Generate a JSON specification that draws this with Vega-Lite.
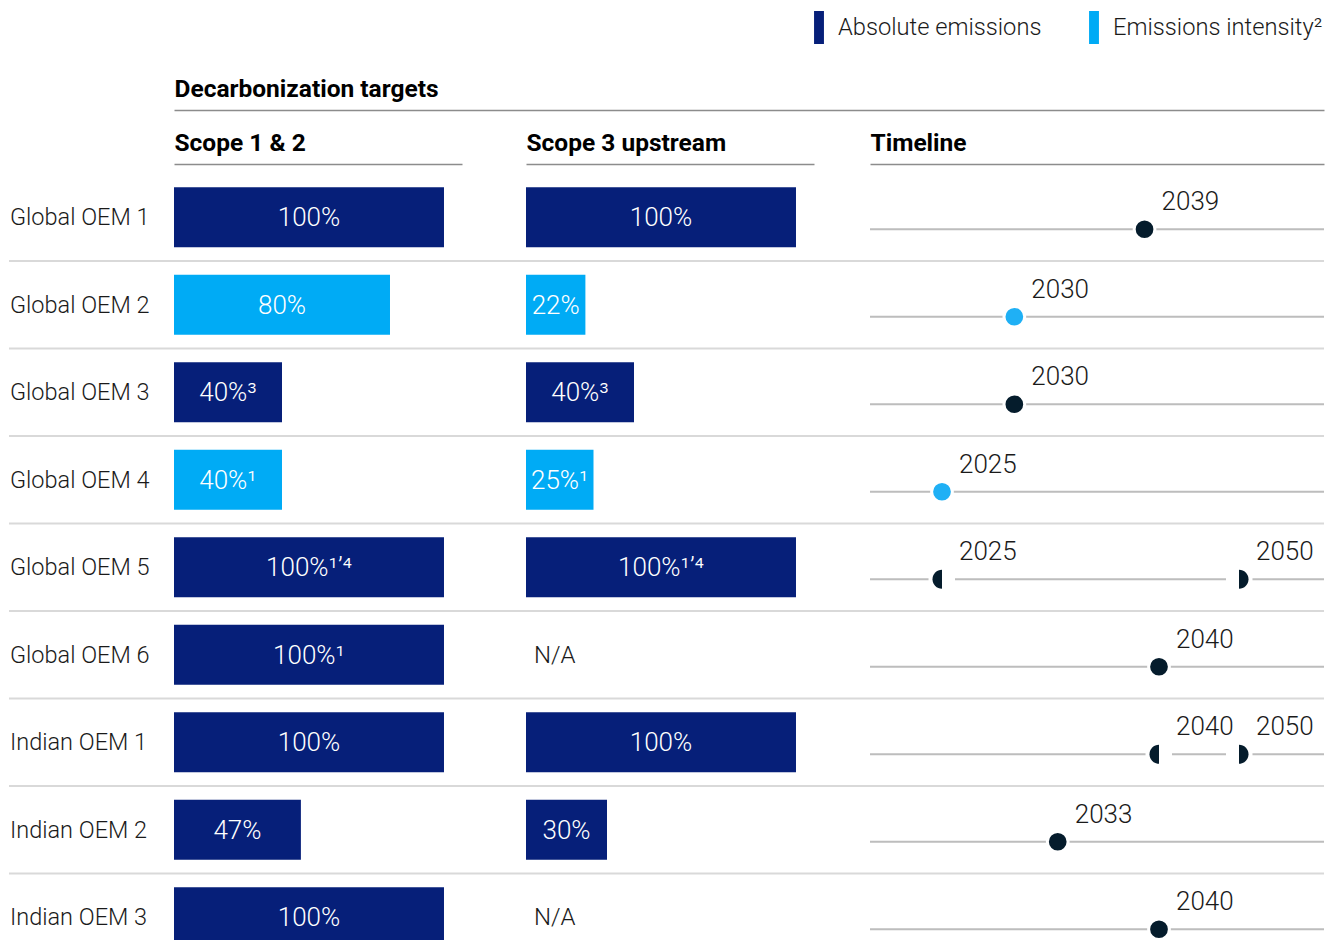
{
  "$schema": "https://vega.github.io/schema/vega-lite/v6.json",
  "padding": {"left": 8, "top": 11, "right": 10, "bottom": 0},
  "background": "white",
  "bounds": "flush",
  "spacing": 54,
  "datasets": {
    "rows": [
      {"company": "Global OEM 1", "s12": 100, "s12Type": "Absolute emissions", "s12Label": "100%", "s3": 100, "s3Type": "Absolute emissions", "s3Label": "100%"},
      {"company": "Global OEM 2", "s12": 80, "s12Type": "Emissions intensity²", "s12Label": "80%", "s3": 22, "s3Type": "Emissions intensity²", "s3Label": "22%"},
      {"company": "Global OEM 3", "s12": 40, "s12Type": "Absolute emissions", "s12Label": "40%³", "s3": 40, "s3Type": "Absolute emissions", "s3Label": "40%³"},
      {"company": "Global OEM 4", "s12": 40, "s12Type": "Emissions intensity²", "s12Label": "40%¹", "s3": 25, "s3Type": "Emissions intensity²", "s3Label": "25%¹"},
      {"company": "Global OEM 5", "s12": 100, "s12Type": "Absolute emissions", "s12Label": "100%¹ʼ⁴", "s3": 100, "s3Type": "Absolute emissions", "s3Label": "100%¹ʼ⁴"},
      {"company": "Global OEM 6", "s12": 100, "s12Type": "Absolute emissions", "s12Label": "100%¹", "s3": null, "s3Type": null, "s3Label": "N/A"},
      {"company": "Indian OEM 1", "s12": 100, "s12Type": "Absolute emissions", "s12Label": "100%", "s3": 100, "s3Type": "Absolute emissions", "s3Label": "100%"},
      {"company": "Indian OEM 2", "s12": 47, "s12Type": "Absolute emissions", "s12Label": "47%", "s3": 30, "s3Type": "Absolute emissions", "s3Label": "30%"},
      {"company": "Indian OEM 3", "s12": 100, "s12Type": "Absolute emissions", "s12Label": "100%", "s3": null, "s3Type": null, "s3Label": "N/A"}
    ],
    "timeline": [
      {"company": "Global OEM 1", "year": 2039, "kind": "target", "type": "Absolute emissions"},
      {"company": "Global OEM 2", "year": 2030, "kind": "target", "type": "Emissions intensity²"},
      {"company": "Global OEM 3", "year": 2030, "kind": "target", "type": "Absolute emissions"},
      {"company": "Global OEM 4", "year": 2025, "kind": "target", "type": "Emissions intensity²"},
      {"company": "Global OEM 5", "year": 2025, "kind": "start", "type": "Absolute emissions"},
      {"company": "Global OEM 5", "year": 2050, "kind": "end", "type": "Absolute emissions"},
      {"company": "Global OEM 6", "year": 2040, "kind": "target", "type": "Absolute emissions"},
      {"company": "Indian OEM 1", "year": 2040, "kind": "start", "type": "Absolute emissions"},
      {"company": "Indian OEM 1", "year": 2050, "kind": "end", "type": "Absolute emissions"},
      {"company": "Indian OEM 2", "year": 2033, "kind": "target", "type": "Absolute emissions"},
      {"company": "Indian OEM 3", "year": 2040, "kind": "target", "type": "Absolute emissions"}
    ]
  },
  "vconcat": [
    {
      "spacing": 0,
      "bounds": "flush",
      "hconcat": [
        {"width": 165, "height": 1, "data": {"values": []}, "mark": "point", "encoding": {}},
        {
          "width": 1150, "height": 1,
          "data": {"values": []},
          "mark": {"type": "rule"},
          "encoding": {
            "x": {"field": "v", "type": "quantitative", "scale": {"domain": [0, 1]},
              "axis": {"orient": "top", "title": "Decarbonization targets", "titleAnchor": "start", "titleAlign": "left", "titleBaseline": "alphabetic", "titlePadding": 14, "titleFontSize": 24.5, "titleFontWeight": "bold", "titleColor": "#000000", "domain": true, "domainColor": "#8c8c8c", "domainWidth": 1.5, "ticks": false, "tickSize": 0, "labels": false, "grid": false}}
          }
        }
      ]
    },
    {
      "spacing": 0,
      "bounds": "flush",
      "hconcat": [
        {
          "width": 165, "height": 776,
          "layer": [
            {
              "data": {"name": "rows"},
              "transform": [{"filter": "datum.company != 'Global OEM 1'"}],
              "mark": {"type": "rule", "color": "#d9d9d9", "strokeWidth": 2},
              "encoding": {"y": {"field": "company", "type": "nominal", "bandPosition": 0, "scale": {"domain": ["Global OEM 1","Global OEM 2","Global OEM 3","Global OEM 4","Global OEM 5","Global OEM 6","Indian OEM 1","Indian OEM 2","Indian OEM 3"], "range": [9.5, 797], "paddingInner": 0, "paddingOuter": 0}, "axis": null}}
            },
            {
              "data": {"name": "rows"},
              "mark": {"type": "text", "align": "left", "baseline": "middle", "dx": 1, "yOffset": 1, "fontSize": 23.5, "fontWeight": 300, "color": "#1a1a1a"},
              "encoding": {
                "y": {"field": "company", "type": "nominal", "scale": {"domain": ["Global OEM 1","Global OEM 2","Global OEM 3","Global OEM 4","Global OEM 5","Global OEM 6","Indian OEM 1","Indian OEM 2","Indian OEM 3"], "range": [9.5, 797], "paddingInner": 0, "paddingOuter": 0}, "axis": null},
                "x": {"datum": 0, "type": "quantitative", "scale": {"domain": [0, 1], "nice": false}, "axis": null},
                "text": {"field": "company"}
              }
            }
          ]
        },
        {
          "width": 288, "height": 776,
          "layer": [
            {
              "data": {"name": "rows"},
              "transform": [{"filter": "datum.company != 'Global OEM 1'"}],
              "mark": {"type": "rule", "color": "#d9d9d9", "strokeWidth": 2},
              "encoding": {"y": {"field": "company", "type": "nominal", "bandPosition": 0, "scale": {"domain": ["Global OEM 1","Global OEM 2","Global OEM 3","Global OEM 4","Global OEM 5","Global OEM 6","Indian OEM 1","Indian OEM 2","Indian OEM 3"], "range": [9.5, 797], "paddingInner": 0, "paddingOuter": 0}, "axis": null}}
            },
            {
              "data": {"name": "rows"},
              "mark": {"type": "bar", "orient": "horizontal", "height": {"band": 0.6857}, "clip": true},
              "encoding": {
                "y": {"field": "company", "type": "nominal", "scale": {"domain": ["Global OEM 1","Global OEM 2","Global OEM 3","Global OEM 4","Global OEM 5","Global OEM 6","Indian OEM 1","Indian OEM 2","Indian OEM 3"], "range": [9.5, 797], "paddingInner": 0, "paddingOuter": 0}, "axis": null},
                "x": {"field": "s12", "type": "quantitative", "scale": {"domain": [0, 106.67], "nice": false, "zero": true},
                  "axis": {"orient": "top", "title": "Scope 1 & 2", "titleAnchor": "start", "titleAlign": "left", "titleBaseline": "alphabetic", "titlePadding": 14, "titleFontSize": 24.5, "titleFontWeight": "bold", "titleColor": "#000000", "domain": true, "domainColor": "#8c8c8c", "domainWidth": 1.5, "ticks": false, "tickSize": 0, "labels": false, "grid": false}},
                "color": {"field": "s12Type", "type": "nominal", "scale": {"domain": ["Absolute emissions", "Emissions intensity²"], "range": ["#061f79", "#00abf5"]},
                  "legend": {"orient": "none", "legendX": 793.5, "legendY": -99, "direction": "horizontal", "title": null, "symbolType": "M-0.3,-1H0.3V1H-0.3Z", "symbolSize": 1089, "symbolStrokeWidth": 0, "symbolOpacity": 1, "labelFontSize": 23.7, "labelFontWeight": 300, "labelColor": "#1a1a1a", "labelOffset": 2.5, "columnPadding": 36, "padding": 0, "labelLimit": 400}}
              }
            },
            {
              "data": {"name": "rows"},
              "mark": {"type": "text", "color": "#ffffff", "fontSize": 26, "fontWeight": 300, "align": "center", "baseline": "middle", "yOffset": 1},
              "encoding": {
                "y": {"field": "company", "type": "nominal", "scale": {"domain": ["Global OEM 1","Global OEM 2","Global OEM 3","Global OEM 4","Global OEM 5","Global OEM 6","Indian OEM 1","Indian OEM 2","Indian OEM 3"], "range": [9.5, 797], "paddingInner": 0, "paddingOuter": 0}, "axis": null},
                "x": {"field": "s12", "type": "quantitative", "scale": {"domain": [0, 213.33], "nice": false, "zero": true}, "axis": null},
                "text": {"field": "s12Label"}
              }
            }
          ],
          "resolve": {"scale": {"x": "independent"}}
        },
        {
          "width": 64, "height": 776,
          "data": {"name": "rows"},
          "transform": [{"filter": "datum.company != 'Global OEM 1'"}],
          "mark": {"type": "rule", "color": "#d9d9d9", "strokeWidth": 2},
          "encoding": {"y": {"field": "company", "type": "nominal", "bandPosition": 0, "scale": {"domain": ["Global OEM 1","Global OEM 2","Global OEM 3","Global OEM 4","Global OEM 5","Global OEM 6","Indian OEM 1","Indian OEM 2","Indian OEM 3"], "range": [9.5, 797], "paddingInner": 0, "paddingOuter": 0}, "axis": null}}
        },
        {
          "width": 288, "height": 776,
          "layer": [
            {
              "data": {"name": "rows"},
              "transform": [{"filter": "datum.company != 'Global OEM 1'"}],
              "mark": {"type": "rule", "color": "#d9d9d9", "strokeWidth": 2},
              "encoding": {"y": {"field": "company", "type": "nominal", "bandPosition": 0, "scale": {"domain": ["Global OEM 1","Global OEM 2","Global OEM 3","Global OEM 4","Global OEM 5","Global OEM 6","Indian OEM 1","Indian OEM 2","Indian OEM 3"], "range": [9.5, 797], "paddingInner": 0, "paddingOuter": 0}, "axis": null}}
            },
            {
              "data": {"name": "rows"},
              "transform": [{"filter": "isValid(datum.s3)"}],
              "mark": {"type": "bar", "orient": "horizontal", "height": {"band": 0.6857}, "clip": true},
              "encoding": {
                "y": {"field": "company", "type": "nominal", "scale": {"domain": ["Global OEM 1","Global OEM 2","Global OEM 3","Global OEM 4","Global OEM 5","Global OEM 6","Indian OEM 1","Indian OEM 2","Indian OEM 3"], "range": [9.5, 797], "paddingInner": 0, "paddingOuter": 0}, "axis": null},
                "x": {"field": "s3", "type": "quantitative", "scale": {"domain": [0, 106.67], "nice": false, "zero": true},
                  "axis": {"orient": "top", "title": "Scope 3 upstream", "titleAnchor": "start", "titleAlign": "left", "titleBaseline": "alphabetic", "titlePadding": 14, "titleFontSize": 24.5, "titleFontWeight": "bold", "titleColor": "#000000", "domain": true, "domainColor": "#8c8c8c", "domainWidth": 1.5, "ticks": false, "tickSize": 0, "labels": false, "grid": false}},
                "color": {"field": "s3Type", "type": "nominal", "scale": {"domain": ["Absolute emissions", "Emissions intensity²"], "range": ["#061f79", "#00abf5"]},
                  "legend": {"orient": "none", "legendX": 793.5, "legendY": -99, "direction": "horizontal", "title": null, "symbolType": "M-0.3,-1H0.3V1H-0.3Z", "symbolSize": 1089, "symbolStrokeWidth": 0, "symbolOpacity": 1, "labelFontSize": 23.7, "labelFontWeight": 300, "labelColor": "#1a1a1a", "labelOffset": 2.5, "columnPadding": 36, "padding": 0, "labelLimit": 400}}
              }
            },
            {
              "data": {"name": "rows"},
              "transform": [{"filter": "isValid(datum.s3)"}],
              "mark": {"type": "text", "color": "#ffffff", "fontSize": 26, "fontWeight": 300, "align": "center", "baseline": "middle", "yOffset": 1},
              "encoding": {
                "y": {"field": "company", "type": "nominal", "scale": {"domain": ["Global OEM 1","Global OEM 2","Global OEM 3","Global OEM 4","Global OEM 5","Global OEM 6","Indian OEM 1","Indian OEM 2","Indian OEM 3"], "range": [9.5, 797], "paddingInner": 0, "paddingOuter": 0}, "axis": null},
                "x": {"field": "s3", "type": "quantitative", "scale": {"domain": [0, 213.33], "nice": false, "zero": true}, "axis": null},
                "text": {"field": "s3Label"}
              }
            },
            {
              "data": {"name": "rows"},
              "transform": [{"filter": "!isValid(datum.s3)"}],
              "mark": {"type": "text", "color": "#1a1a1a", "fontSize": 24, "fontWeight": 300, "align": "left", "baseline": "middle", "dx": 8, "yOffset": 1},
              "encoding": {
                "y": {"field": "company", "type": "nominal", "scale": {"domain": ["Global OEM 1","Global OEM 2","Global OEM 3","Global OEM 4","Global OEM 5","Global OEM 6","Indian OEM 1","Indian OEM 2","Indian OEM 3"], "range": [9.5, 797], "paddingInner": 0, "paddingOuter": 0}, "axis": null},
                "x": {"datum": 0, "type": "quantitative", "scale": {"domain": [0, 100], "nice": false}, "axis": null},
                "text": {"field": "s3Label"}
              }
            }
          ],
          "resolve": {"scale": {"x": "independent"}}
        },
        {
          "width": 56, "height": 776,
          "data": {"name": "rows"},
          "transform": [{"filter": "datum.company != 'Global OEM 1'"}],
          "mark": {"type": "rule", "color": "#d9d9d9", "strokeWidth": 2},
          "encoding": {"y": {"field": "company", "type": "nominal", "bandPosition": 0, "scale": {"domain": ["Global OEM 1","Global OEM 2","Global OEM 3","Global OEM 4","Global OEM 5","Global OEM 6","Indian OEM 1","Indian OEM 2","Indian OEM 3"], "range": [9.5, 797], "paddingInner": 0, "paddingOuter": 0}, "axis": null}}
        },
        {
          "width": 454, "height": 776,
          "layer": [
            {
              "data": {"name": "rows"},
              "transform": [{"filter": "datum.company != 'Global OEM 1'"}],
              "mark": {"type": "rule", "color": "#d9d9d9", "strokeWidth": 2},
              "encoding": {"y": {"field": "company", "type": "nominal", "bandPosition": 0, "scale": {"domain": ["Global OEM 1","Global OEM 2","Global OEM 3","Global OEM 4","Global OEM 5","Global OEM 6","Indian OEM 1","Indian OEM 2","Indian OEM 3"], "range": [9.5, 797], "paddingInner": 0, "paddingOuter": 0}, "axis": null}}
            },
            {
              "data": {"name": "rows"},
              "mark": {"type": "rule", "color": "#bdbdbd", "strokeWidth": 2, "yOffset": 12},
              "encoding": {"y": {"field": "company", "type": "nominal", "bandPosition": 0.5, "scale": {"domain": ["Global OEM 1","Global OEM 2","Global OEM 3","Global OEM 4","Global OEM 5","Global OEM 6","Indian OEM 1","Indian OEM 2","Indian OEM 3"], "range": [9.5, 797], "paddingInner": 0, "paddingOuter": 0}, "axis": null}}
            },
            {
              "data": {"name": "timeline"},
              "transform": [{"filter": "datum.kind == 'target'"}],
              "mark": {"type": "point", "shape": "circle", "filled": true, "size": 430, "stroke": "#ffffff", "strokeWidth": 3, "opacity": 1, "strokeOpacity": 1, "yOffset": 12},
              "encoding": {
                "y": {"field": "company", "type": "nominal", "scale": {"domain": ["Global OEM 1","Global OEM 2","Global OEM 3","Global OEM 4","Global OEM 5","Global OEM 6","Indian OEM 1","Indian OEM 2","Indian OEM 3"], "range": [9.5, 797], "paddingInner": 0, "paddingOuter": 0}, "axis": null},
                "x": {"field": "year", "type": "quantitative", "scale": {"type": "linear", "domain": [2020, 2025, 2040, 2050, 2060], "range": [0, 72, 289, 369, 454], "nice": false, "zero": false},
                  "axis": {"orient": "top", "title": "Timeline", "titleAnchor": "start", "titleAlign": "left", "titleBaseline": "alphabetic", "titlePadding": 14, "titleFontSize": 24.5, "titleFontWeight": "bold", "titleColor": "#000000", "domain": true, "domainColor": "#8c8c8c", "domainWidth": 1.5, "ticks": false, "tickSize": 0, "labels": false, "grid": false}},
                "fill": {"field": "type", "type": "nominal", "scale": {"domain": ["Absolute emissions", "Emissions intensity²"], "range": ["#051c2c", "#1fb0f5"]}, "legend": null}
              }
            },
            {
              "data": {"name": "timeline"},
              "transform": [{"filter": "datum.kind == 'start'"}],
              "mark": {"type": "point", "shape": "M-1.42,-0.25H1.37V0.25H-1.42Z", "filled": true, "size": 361, "color": "#ffffff", "opacity": 1, "yOffset": 12},
              "encoding": {
                "y": {"field": "company", "type": "nominal", "scale": {"domain": ["Global OEM 1","Global OEM 2","Global OEM 3","Global OEM 4","Global OEM 5","Global OEM 6","Indian OEM 1","Indian OEM 2","Indian OEM 3"], "range": [9.5, 797], "paddingInner": 0, "paddingOuter": 0}, "axis": null},
                "x": {"field": "year", "type": "quantitative"}
              }
            },
            {
              "data": {"name": "timeline"},
              "transform": [{"filter": "datum.kind == 'end'"}],
              "mark": {"type": "point", "shape": "M-1.37,-0.25H1.42V0.25H-1.37Z", "filled": true, "size": 361, "color": "#ffffff", "opacity": 1, "yOffset": 12},
              "encoding": {
                "y": {"field": "company", "type": "nominal", "scale": {"domain": ["Global OEM 1","Global OEM 2","Global OEM 3","Global OEM 4","Global OEM 5","Global OEM 6","Indian OEM 1","Indian OEM 2","Indian OEM 3"], "range": [9.5, 797], "paddingInner": 0, "paddingOuter": 0}, "axis": null},
                "x": {"field": "year", "type": "quantitative"}
              }
            },
            {
              "data": {"name": "timeline"},
              "transform": [{"filter": "datum.kind == 'start'"}],
              "mark": {"type": "point", "shape": "M0,-1A1,1,0,0,0,0,1Z", "filled": true, "size": 361, "opacity": 1, "yOffset": 12},
              "encoding": {
                "y": {"field": "company", "type": "nominal", "scale": {"domain": ["Global OEM 1","Global OEM 2","Global OEM 3","Global OEM 4","Global OEM 5","Global OEM 6","Indian OEM 1","Indian OEM 2","Indian OEM 3"], "range": [9.5, 797], "paddingInner": 0, "paddingOuter": 0}, "axis": null},
                "x": {"field": "year", "type": "quantitative"},
                "fill": {"field": "type", "type": "nominal", "legend": null}
              }
            },
            {
              "data": {"name": "timeline"},
              "transform": [{"filter": "datum.kind == 'end'"}],
              "mark": {"type": "point", "shape": "M0,-1A1,1,0,0,1,0,1Z", "filled": true, "size": 361, "opacity": 1, "yOffset": 12},
              "encoding": {
                "y": {"field": "company", "type": "nominal", "scale": {"domain": ["Global OEM 1","Global OEM 2","Global OEM 3","Global OEM 4","Global OEM 5","Global OEM 6","Indian OEM 1","Indian OEM 2","Indian OEM 3"], "range": [9.5, 797], "paddingInner": 0, "paddingOuter": 0}, "axis": null},
                "x": {"field": "year", "type": "quantitative"},
                "fill": {"field": "type", "type": "nominal", "legend": null}
              }
            },
            {
              "data": {"name": "timeline"},
              "mark": {"type": "text", "color": "#1a1a1a", "fontSize": 26, "fontWeight": 300, "align": "left", "baseline": "middle", "dx": 17, "yOffset": -15},
              "encoding": {
                "y": {"field": "company", "type": "nominal", "scale": {"domain": ["Global OEM 1","Global OEM 2","Global OEM 3","Global OEM 4","Global OEM 5","Global OEM 6","Indian OEM 1","Indian OEM 2","Indian OEM 3"], "range": [9.5, 797], "paddingInner": 0, "paddingOuter": 0}, "axis": null},
                "x": {"field": "year", "type": "quantitative"},
                "text": {"field": "year", "type": "quantitative", "format": "d"}
              }
            }
          ]
        }
      ]
    }
  ],
  "config": {
    "view": {"stroke": null},
    "font": "Roboto",
    "axis": {"labelFont": "Roboto", "titleFont": "Roboto"},
    "legend": {"labelFont": "Roboto"},
    "text": {"font": "Roboto"}
  }
}
